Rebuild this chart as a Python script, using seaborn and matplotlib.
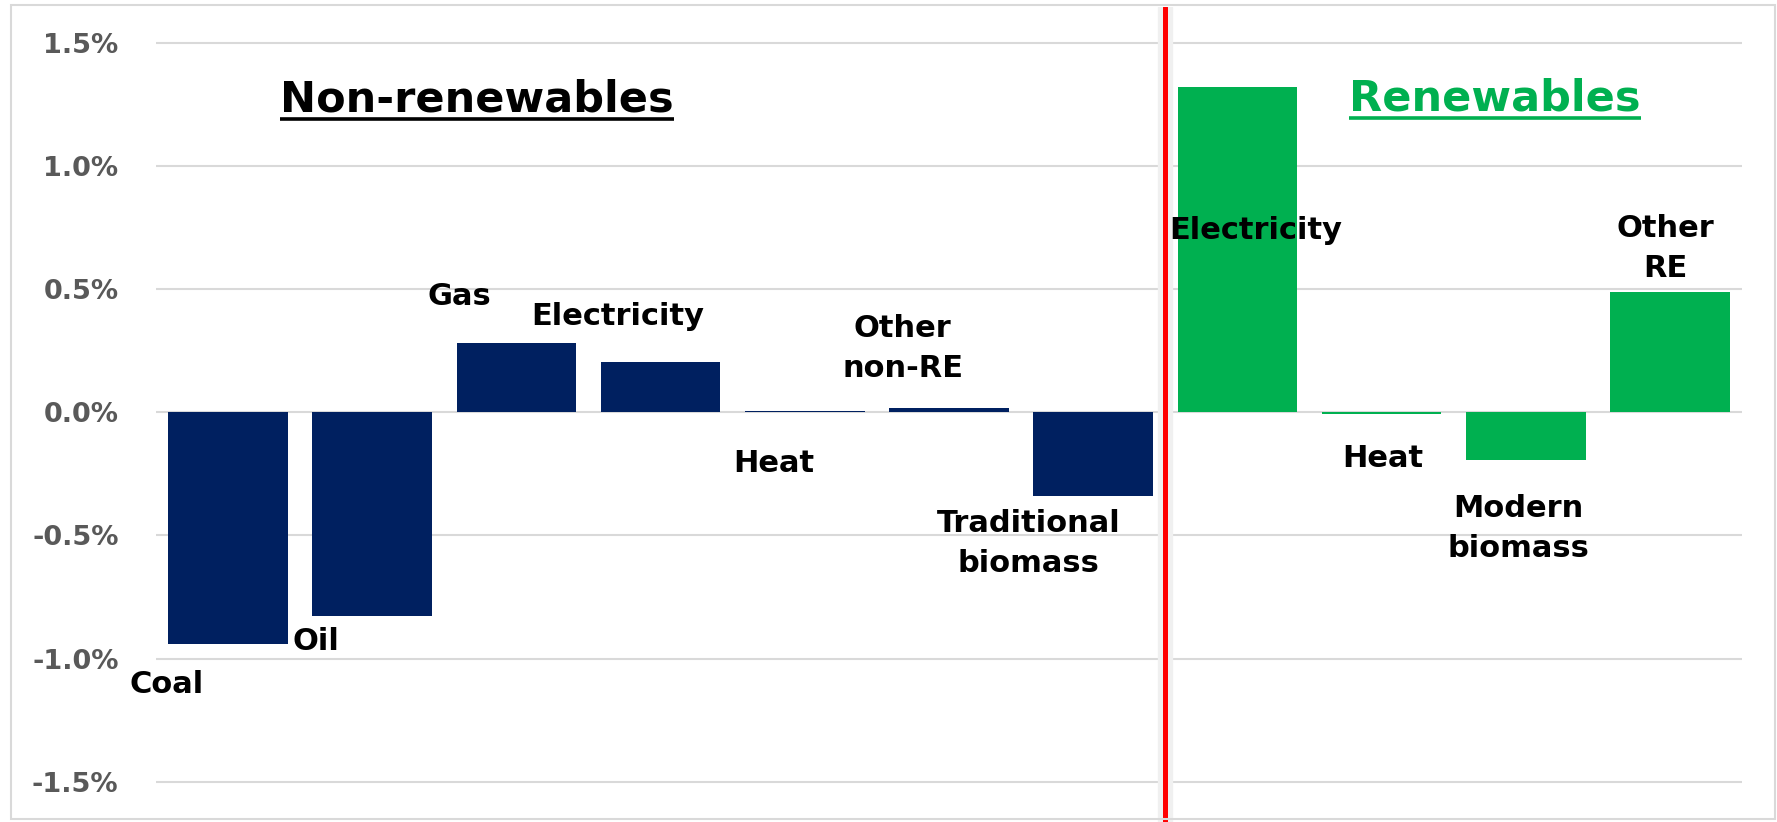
import matplotlib
matplotlib.use("Agg")
import matplotlib.pyplot as plt
from matplotlib.lines import Line2D
from matplotlib.patches import Rectangle
import seaborn as sns
import pandas as pd

# Change in share of final energy consumption, percentage points
groups = ["Non-renewables"] * 7 + ["Renewables"] * 4
items = ["Coal", "Oil", "Gas", "Electricity", "Heat", "Other\nnon-RE",
         "Traditional\nbiomass", "Electricity", "Heat", "Modern\nbiomass",
         "Other\nRE"]
values = [-0.942, -0.827, 0.280, 0.203, 0.004, 0.016, -0.339,
          1.321, -0.005, -0.193, 0.490]
y_ticks = [-1.5, -1.0, -0.5, 0.0, 0.5, 1.0, 1.5]

# Label anchor points (x in category units, y = baseline of last line in %)
label_x = [-0.426, 0.606, 1.605, 2.700, 3.787, 4.680, 5.551,
           7.128, 8.008, 8.951, 9.971]
label_y = [-1.141, -0.966, 0.436, 0.355, -0.244, 0.145, -0.647,
           0.704, -0.223, -0.587, 0.551]

NAVY = "#002060"
GREEN = "#00B050"

sns.set_theme(style="white")
plt.rcParams["font.family"] = ["DejaVu Sans"]

W, H = 1777, 822
fig = plt.figure(figsize=(W / 100, H / 100), dpi=100)
fig.patch.set_facecolor("white")

# outer chart border
fig.add_artist(Rectangle((11 / W, 3 / H), (1775 - 11) / W, (817 - 3) / H,
                         transform=fig.transFigure, fill=False,
                         edgecolor="#d9d9d9", lw=1.5))

ax_left, ax_right = 156 / W, 1742 / W
ax_bottom, ax_top = 0.0, 1 - 7 / H
ax = fig.add_axes([ax_left, ax_bottom, ax_right - ax_left, ax_top - ax_bottom])
ax.set_facecolor("none")

df = pd.DataFrame({
    "key": [f"{g}|{i}|{n}" for n, (g, i) in enumerate(zip(groups, items))],
    "value": values,
    "group": groups,
})
sns.barplot(data=df, x="key", y="value", hue="group", order=list(df["key"]),
            palette={"Non-renewables": NAVY, "Renewables": GREEN},
            saturation=1, dodge=False, width=0.83, legend=False, ax=ax,
            edgecolor="none", linewidth=0, zorder=3)

ax.set_xlim(-0.5, 10.5)
ax.set_ylim(-1.664, 1.646)
ax.set_yticks(y_ticks)
ax.set_yticklabels([f"{v:.1f}%" for v in y_ticks], fontsize=19.5,
                   fontweight="bold", color="#595959")
ax.tick_params(axis="y", length=0, pad=27)
ax.set_xticks([])
ax.set_xlabel("")
ax.set_ylabel("")
for s in ax.spines.values():
    s.set_visible(False)
ax.yaxis.grid(True, color="#d9d9d9", lw=1.5, zorder=0)
ax.xaxis.grid(False)
ax.set_axisbelow(True)

# divider between non-renewable and renewable categories
ax.axvline(6.5, color="#f0f0f0", lw=11, zorder=1)
ax.axvline(6.5, color="#ff0000", lw=3.6, zorder=4)

for txt, x, y in zip(items, label_x, label_y):
    ax.text(x, y, txt, ha="center", va="baseline", fontsize=22,
            fontweight="bold", color="black", linespacing=1.47, zorder=5)

titles = [("Non-renewables", 1.727, 1.221, "black"),
          ("Renewables", 8.786, 1.224, GREEN)]
title_artists = []
for txt, x, y, c in titles:
    t = ax.text(x, y, txt, ha="center", va="baseline", fontsize=31,
                fontweight="bold", color=c, zorder=5)
    title_artists.append((t, x, y, c))

# underline the section titles
fig.canvas.draw()
renderer = fig.canvas.get_renderer()
for t, x, y, c in title_artists:
    bb = t.get_window_extent(renderer)
    base_px = ax.transData.transform((x, y))[1]
    uy = (base_px - 7.5) / H
    fig.add_artist(Line2D([bb.x0 / W, bb.x1 / W], [uy, uy],
                          transform=fig.transFigure, color=c, lw=2.6,
                          solid_capstyle="butt"))

fig.savefig("out.png", dpi=100, facecolor="white")
